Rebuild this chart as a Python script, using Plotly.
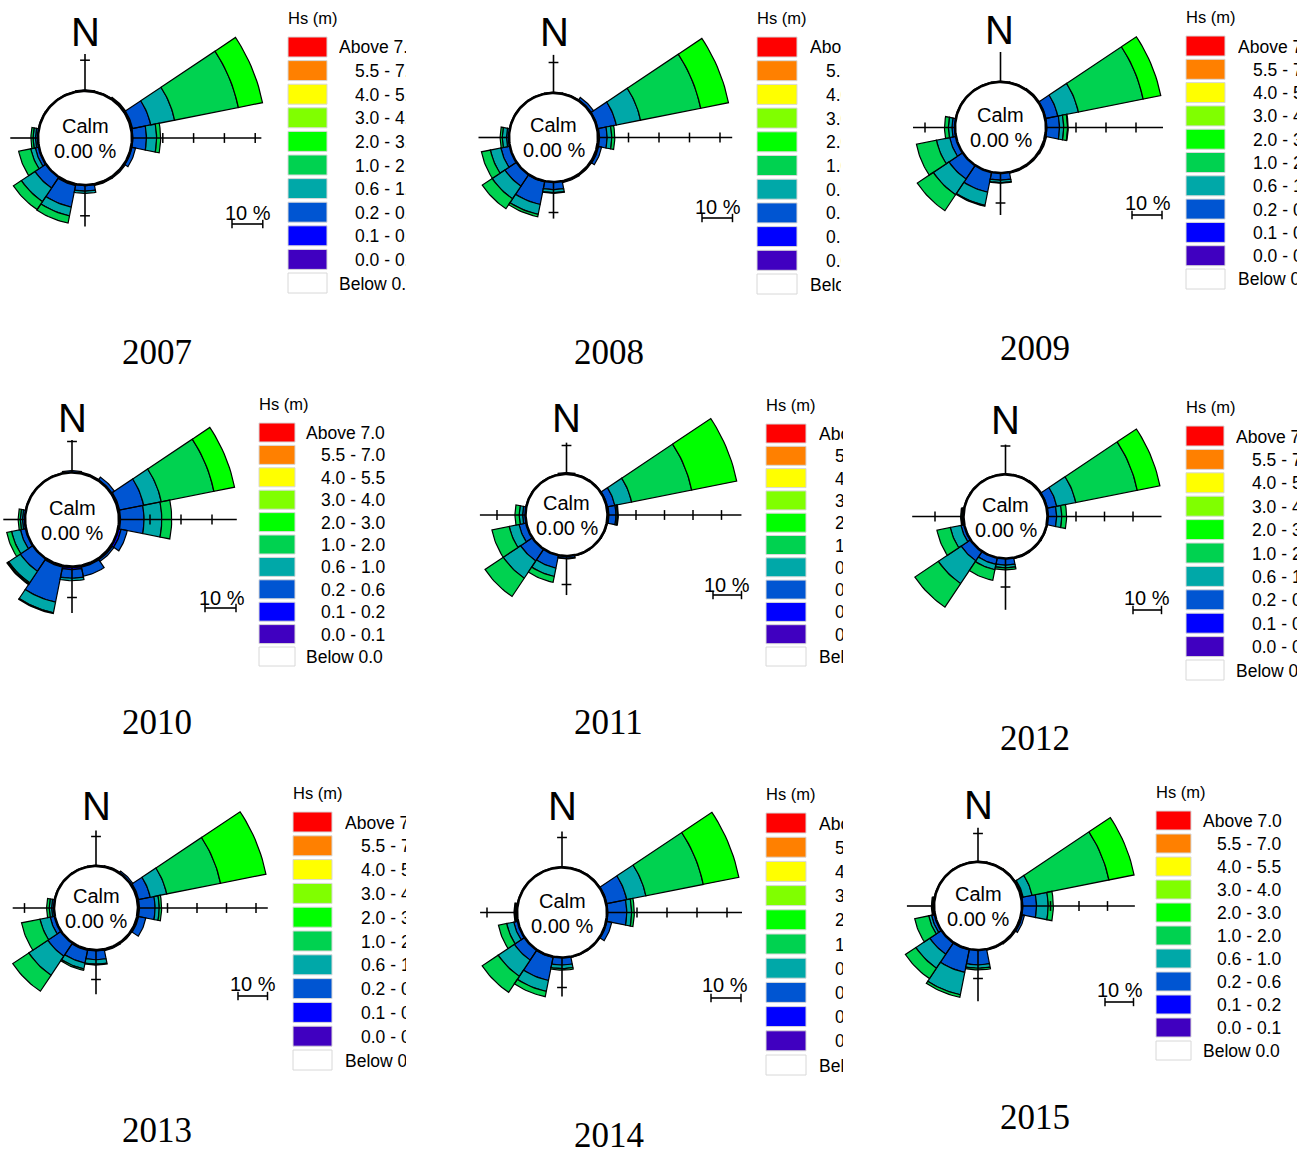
import numpy as np
import plotly.graph_objects as go

FIG_W, FIG_H = 1297, 1151

# ---------------- data ----------------
DIRECTIONS = ["N", "NNE", "NE", "ENE", "E", "ESE", "SE", "SSE",
              "S", "SSW", "SW", "WSW", "W", "WNW", "NW", "NNW"]
BEARINGS = [i * 22.5 for i in range(16)]

HS_BINS = ["Above 7.0", "5.5 - 7.0", "4.0 - 5.5", "3.0 - 4.0", "2.0 - 3.0",
           "1.0 - 2.0", "0.6 - 1.0", "0.2 - 0.6", "0.1 - 0.2", "0.0 - 0.1", "Below 0.0"]
HS_COLORS = ["#ff0000", "#ff8000", "#ffff00", "#80ff00", "#00ff00",
             "#00d250", "#00a8a8", "#0055d2", "#0000ff", "#4000c0", "#ffffff"]
STACK_ORDER = ["0.0 - 0.1", "0.1 - 0.2", "0.2 - 0.6", "0.6 - 1.0", "1.0 - 2.0", "2.0 - 3.0"]

YEARS = [2007, 2008, 2009, 2010, 2011, 2012, 2013, 2014, 2015]
CALM_PCT = [0.00, 0.00, 0.00, 0.00, 0.00, 0.00, 0.00, 0.00, 0.00]

# frequency (%) per Hs class, directions N..NNW
freq_2007 = {
    "0.1 - 0.2": [0, 0, 0.3, 0.5, 0.3, 0.3, 0, 0.2, 0.2, 0.5, 0, 0, 0, 0, 0, 0],
    "0.2 - 0.6": [0.4, 0.3, 0.3, 6.0, 4.4, 1.2, 0.5, 0.3, 1.8, 7.1, 4.3, 1.2, 0.8, 0.2, 0.2, 0.2],
    "0.6 - 1.0": [0, 0, 0, 7.9, 3.3, 0, 0, 0, 0.7, 2.9, 5.3, 1.5, 0.8, 0, 0, 0],
    "1.0 - 2.0": [0, 0, 0, 21.1, 1.3, 0, 0, 0, 0, 2.4, 3.1, 4.0, 0.7, 0, 0, 0],
    "2.0 - 3.0": [0, 0, 0, 8.0, 0, 0, 0, 0, 0, 0, 0, 0, 0, 0, 0, 0],
}
freq_2008 = {
    "0.1 - 0.2": [0, 0, 0.3, 0.3, 0.5, 0.5, 0, 0, 0, 0.3, 0, 0, 0, 0, 0, 0],
    "0.2 - 0.6": [0.3, 0.3, 0.9, 6.1, 2.5, 1.0, 0.4, 0.5, 2.5, 7.5, 4.6, 3.0, 0.8, 0.2, 0.2, 0.2],
    "0.6 - 1.0": [0, 0, 0, 8.1, 1.5, 0, 0, 0, 1.0, 3.3, 5.0, 3.5, 1.4, 0, 0, 0],
    "1.0 - 2.0": [0, 0, 0, 20.1, 1.0, 0, 0, 0, 0.2, 0.8, 3.9, 3.0, 0.7, 0, 0, 0],
    "2.0 - 3.0": [0, 0, 0, 9.3, 0, 0, 0, 0, 0, 0, 0, 0, 0, 0, 0, 0],
}
freq_2009 = {
    "0.1 - 0.2": [0, 0, 0, 0.3, 0.3, 0, 0, 0, 0, 0, 0, 0, 0, 0, 0, 0],
    "0.2 - 0.6": [0.3, 0.3, 0.4, 4.0, 4.2, 0.5, 0.4, 0.4, 2.4, 6.8, 5.5, 2.1, 1.0, 0.2, 0.2, 0.2],
    "0.6 - 1.0": [0, 0, 0, 7.0, 1.4, 0, 0, 0, 0.8, 4.5, 6.3, 4.5, 1.2, 0, 0, 0],
    "1.0 - 2.0": [0, 0, 0, 22.0, 1.3, 0, 0, 0, 0.2, 0.3, 6.4, 6.8, 1.3, 0, 0, 0],
    "2.0 - 3.0": [0, 0, 0, 6.0, 0.2, 0, 0, 0, 0, 0, 0, 0, 0, 0, 0, 0],
}
freq_2010 = {
    "0.0 - 0.1": [0, 0, 0, 0, 0, 0, 0, 0, 0.4, 0, 0, 0, 0, 0, 0, 0],
    "0.1 - 0.2": [0, 0, 0.3, 0.5, 0.5, 1.0, 0.5, 0.5, 0.6, 0.5, 0, 0, 0, 0, 0, 0],
    "0.2 - 0.6": [0.6, 0.4, 1.0, 7.9, 7.6, 2.0, 0.6, 3.0, 2.8, 11.5, 4.9, 1.8, 0.8, 0.2, 0.2, 0.2],
    "0.6 - 1.0": [0, 0, 0, 5.8, 5.7, 0, 0, 0, 0.8, 3.5, 4.5, 2.9, 0.7, 0, 0, 0],
    "1.0 - 2.0": [0, 0, 0, 17.3, 3.2, 0, 0, 0, 0, 0.3, 0.4, 1.6, 0.7, 0, 0, 0],
    "2.0 - 3.0": [0, 0, 0, 6.8, 0, 0, 0, 0, 0, 0, 0.3, 0, 0, 0, 0, 0],
}
freq_2011 = {
    "0.1 - 0.2": [0, 0, 0, 0.3, 0.5, 0, 0, 0, 0, 0, 0, 0, 0, 0, 0, 0],
    "0.2 - 0.6": [0.5, 0.3, 0.3, 2.6, 2.5, 0.3, 0.2, 0.3, 0.8, 4.6, 5.0, 2.6, 1.0, 0.2, 0.2, 0.2],
    "0.6 - 1.0": [0, 0, 0, 6.0, 0.5, 0, 0, 0, 0.2, 3.0, 7.3, 3.5, 1.2, 0, 0, 0],
    "1.0 - 2.0": [0, 0, 0, 21.5, 0.3, 0, 0, 0, 0, 2.1, 7.7, 6.2, 1.5, 0, 0, 0],
    "2.0 - 3.0": [0, 0, 0, 16.1, 0, 0, 0, 0, 0, 0, 0, 0, 0, 0, 0, 0],
}
freq_2012 = {
    "0.1 - 0.2": [0, 0, 0, 0.3, 0.3, 0, 0, 0, 0, 0, 0, 0, 0, 0, 0, 0],
    "0.2 - 0.6": [0.3, 0.3, 0.4, 3.3, 2.9, 0.3, 0.3, 0.4, 2.3, 2.4, 4.0, 1.2, 0.5, 0.2, 0.2, 0.2],
    "0.6 - 1.0": [0, 0, 0, 6.8, 1.8, 0, 0, 0, 1.0, 1.9, 9.6, 3.8, 0.3, 0, 0, 0],
    "1.0 - 2.0": [0, 0, 0, 22.0, 1.7, 0, 0, 0, 0.7, 3.8, 9.9, 4.8, 0.2, 0, 0, 0],
    "2.0 - 3.0": [0, 0, 0, 8.1, 0, 0, 0, 0, 0, 0, 0, 0, 0, 0, 0, 0],
}
freq_2013 = {
    "0.1 - 0.2": [0, 0, 0, 0.5, 0.5, 0.5, 0, 0, 0.3, 0.4, 0, 0, 0, 0, 0, 0],
    "0.2 - 0.6": [0.3, 0.4, 0.8, 4.0, 5.3, 2.5, 0.4, 0.5, 3.0, 4.4, 5.4, 1.6, 0.8, 0.2, 0.2, 0.2],
    "0.6 - 1.0": [0, 0, 0, 5.7, 1.4, 0, 0, 0, 1.5, 2.0, 7.8, 3.5, 0.8, 0, 0, 0],
    "1.0 - 2.0": [0, 0, 0, 18.6, 0.8, 0, 0, 0, 0.3, 0.5, 6.5, 6.4, 0.9, 0, 0, 0],
    "2.0 - 3.0": [0, 0, 0, 15.7, 0, 0, 0, 0, 0, 0, 0, 0, 0, 0, 0, 0],
}
freq_2014 = {
    "0.1 - 0.2": [0, 0, 0, 0.3, 0.3, 0.3, 0, 0, 0, 0.3, 0, 0, 0, 0, 0, 0],
    "0.2 - 0.6": [0.3, 0.3, 0.3, 6.7, 6.3, 1.6, 0.3, 0.3, 2.5, 7.8, 4.1, 1.4, 0.4, 0.2, 0.2, 0.2],
    "0.6 - 1.0": [0, 0, 0, 6.5, 1.6, 0, 0, 0, 1.2, 3.7, 6.5, 2.4, 0.3, 0, 0, 0],
    "1.0 - 2.0": [0, 0, 0, 19.5, 0.9, 0, 0, 0, 0.5, 1.8, 6.4, 2.8, 0.3, 0, 0, 0],
    "2.0 - 3.0": [0, 0, 0, 12.1, 0, 0, 0, 0, 0, 0, 0, 0, 0, 0, 0, 0],
}
freq_2015 = {
    "0.1 - 0.2": [0, 0, 0, 0.3, 0.3, 0.5, 0, 0, 0, 0.3, 0, 0, 0, 0, 0, 0],
    "0.2 - 0.6": [0.3, 0.3, 0.3, 0.4, 4.8, 0.7, 0.5, 0.4, 5.2, 8.0, 4.9, 1.2, 0.4, 0.2, 0.2, 0.2],
    "0.6 - 1.0": [0, 0, 0, 3.2, 4.1, 0, 0, 0, 1.2, 8.0, 5.9, 1.0, 0.3, 0, 0, 0],
    "1.0 - 2.0": [0, 0, 0, 27.5, 1.8, 0, 0, 0, 0.6, 0.9, 4.4, 5.0, 0.2, 0, 0, 0],
    "2.0 - 3.0": [0, 0, 0, 9.0, 0, 0, 0, 0, 0, 0, 0, 0, 0, 0, 0, 0],
}
FREQ = {2007: freq_2007, 2008: freq_2008, 2009: freq_2009, 2010: freq_2010, 2011: freq_2011,
        2012: freq_2012, 2013: freq_2013, 2014: freq_2014, 2015: freq_2015}

# extent of the N, E, S, W axis lines (%)
AXIS_EXTENT = {
    2007: [12, 42, 13.5, 9], 2008: [12.5, 44, 12, 10], 2009: [10, 39, 14, 14],
    2010: [10.5, 38, 15, 7], 2011: [11, 47, 13.7, 16], 2012: [10.5, 40, 18, 18],
    2013: [12, 44, 15, 14], 2014: [12, 45, 13, 12.3], 2015: [12, 39.6, 18, 9.5],
}
SCALE_PCT = 10

# ---------------- layout (pixel positions / styles) ----------------
COLS = [(0, 432), (432, 865), (865, 1297)]
ROWS = [(0, 383), (383, 767), (767, 1151)]
GEOM = {  # centre x, centre y, calm radius px, px per %
    2007: (85, 138, 47, 3.08), 2008: (553.5, 137.5, 44.5, 3.05), 2009: (1000.5, 127.5, 45.5, 3.0),
    2010: (72, 519.5, 47, 3.1), 2011: (566.5, 515, 41, 2.85), 2012: (1005.5, 516.5, 42, 2.85),
    2013: (96, 908, 42, 2.95), 2014: (562, 912.5, 45, 3.0), 2015: (978, 906, 44, 2.85),
}
LEG = {  # swatch x0, swatch x1, first top, step, swatch h, x of Above/Below, x of numbers, clip x
    2007: (288, 327, 37, 23.6, 20, 338, 354, 405),
    2008: (757, 797, 37, 23.7, 20, 809, 825, 840),
    2009: (1186, 1225, 36, 23.3, 20, 1237, 1252, 1297),
    2010: (259, 295, 423, 22.4, 19, 305, 320, None),
    2011: (766, 806, 424, 22.3, 19, 818, 834, 842),
    2012: (1186, 1224, 426, 23.4, 20, 1235, 1251, 1297),
    2013: (293, 332, 812, 23.8, 20, 344, 360, 405),
    2014: (766, 806, 813, 24.2, 20, 818, 834, 842),
    2015: (1156, 1191, 811, 23.0, 19, 1202, 1216, None),
}
N_POS = {2007: (85, 32), 2008: (554, 32), 2009: (1000, 30), 2010: (72, 418), 2011: (566, 418),
         2012: (1005, 420), 2013: (96, 806), 2014: (562, 806), 2015: (978, 805)}
YEAR_POS = {2007: (157, 353), 2008: (609, 353), 2009: (1035, 348), 2010: (157, 722), 2011: (608, 722),
            2012: (1035, 738), 2013: (157, 1130), 2014: (609, 1135), 2015: (1035, 1117)}
SCALE_POS = {  # bar left x, bar y, text x, text y
    2007: (232, 224, 248, 213), 2008: (702, 218, 718, 207), 2009: (1132, 215, 1148, 203),
    2010: (205, 608, 222, 598), 2011: (713, 595, 727, 585), 2012: (1133, 610, 1147, 598),
    2013: (238, 996, 253, 984), 2014: (711, 998, 725, 985), 2015: (1105, 1002, 1120, 990),
}

SANS = "Liberation Sans, Arial, sans-serif"
SERIF = "Liberation Serif, Times New Roman, serif"


def P(x, y):
    return x / FIG_W, 1 - y / FIG_H


def text_ann(x, y, text, size, family=SANS, xanchor="center", **kw):
    px_, py_ = P(x, y)
    d = dict(x=px_, y=py_, xref="paper", yref="paper", text=text, showarrow=False,
             font=dict(family=family, size=size, color="black"),
             xanchor=xanchor, yanchor="middle", borderpad=0)
    d.update(kw)
    return d


def wedge(bearing, r_in, r_out, n=14):
    t = np.radians(np.linspace(bearing - 11.25, bearing + 11.25, n))
    rr = np.r_[np.full(n, r_in), np.full(n, r_out), r_in]
    tt = np.r_[t, t[::-1], t[0]]
    return list(rr * np.sin(tt)), list(rr * np.cos(tt))


fig = go.Figure()
annotations = []
shapes = []
layout_axes = {}

for idx, yr in enumerate(YEARS):
    n = idx + 1
    xa, ya = ("x", "y") if n == 1 else (f"x{n}", f"y{n}")
    cx, cy, r0, k = GEOM[yr]
    col, row = COLS[idx % 3], ROWS[idx // 3]
    layout_axes["xaxis" if n == 1 else f"xaxis{n}"] = dict(
        domain=[col[0] / FIG_W, col[1] / FIG_W], range=[(col[0] - cx) / k, (col[1] - cx) / k],
        visible=False, fixedrange=True)
    layout_axes["yaxis" if n == 1 else f"yaxis{n}"] = dict(
        domain=[1 - row[1] / FIG_H, 1 - row[0] / FIG_H], range=[(cy - row[1]) / k, (cy - row[0]) / k],
        visible=False, fixedrange=True)
    c0 = r0 / k  # calm circle radius in % units

    # stacked rose wedges
    cum = np.zeros(16)
    for cls in STACK_ORDER:
        vals = FREQ[yr].get(cls)
        if vals is None:
            continue
        xs, ys = [], []
        for d, v in enumerate(vals):
            if v <= 0:
                continue
            wx, wy = wedge(BEARINGS[d], c0 + cum[d], c0 + cum[d] + v)
            xs += wx + [None]
            ys += wy + [None]
            cum[d] += v
        fig.add_trace(go.Scatter(
            x=xs, y=ys, mode="lines", fill="toself",
            fillcolor=HS_COLORS[HS_BINS.index(cls)],
            line=dict(color="black", width=1.2), xaxis=xa, yaxis=ya,
            hoverinfo="skip", showlegend=False))

    # calm circle
    t = np.radians(np.linspace(0, 360, 181))
    fig.add_trace(go.Scatter(
        x=c0 * np.sin(t), y=c0 * np.cos(t), mode="lines", fill="toself", fillcolor="white",
        line=dict(color="black", width=2.6), xaxis=xa, yaxis=ya, hoverinfo="skip", showlegend=False))

    # compass axis lines + ticks
    ext = AXIS_EXTENT[yr]
    lx, ly = [], []
    tvx, tvy, thx, thy = [], [], [], []
    for b, L in zip([0, 90, 180, 270], ext):
        s, c = np.sin(np.radians(b)), np.cos(np.radians(b))
        lx += [c0 * s, (c0 + L) * s, None]
        ly += [c0 * c, (c0 + L) * c, None]
        for tk in range(10, int(L) + 1, 10):
            if tk >= L:
                break
            if b in (0, 180):
                thx.append((c0 + tk) * s); thy.append((c0 + tk) * c)
            else:
                tvx.append((c0 + tk) * s); tvy.append((c0 + tk) * c)
    fig.add_trace(go.Scatter(x=lx, y=ly, mode="lines", line=dict(color="black", width=1.6),
                             xaxis=xa, yaxis=ya, hoverinfo="skip", showlegend=False))
    fig.add_trace(go.Scatter(x=thx, y=thy, mode="markers",
                             marker=dict(symbol="line-ew", size=7, line=dict(color="black", width=1.5)),
                             xaxis=xa, yaxis=ya, hoverinfo="skip", showlegend=False))
    fig.add_trace(go.Scatter(x=tvx, y=tvy, mode="markers",
                             marker=dict(symbol="line-ns", size=7, line=dict(color="black", width=1.5)),
                             xaxis=xa, yaxis=ya, hoverinfo="skip", showlegend=False))

    # 10 % scale bar
    bx, by, tx, ty = SCALE_POS[yr]
    sx0, sy = (bx - cx) / k, (cy - by) / k
    fig.add_trace(go.Scatter(x=[sx0, sx0 + SCALE_PCT], y=[sy, sy], mode="lines+markers",
                             line=dict(color="black", width=1.6),
                             marker=dict(symbol="line-ns", size=6, line=dict(color="black", width=1.5)),
                             xaxis=xa, yaxis=ya, hoverinfo="skip", showlegend=False))
    annotations.append(text_ann(tx, ty, f"{SCALE_PCT} %", 20))

    # N / Calm text
    annotations.append(text_ann(*N_POS[yr], "N", 40))
    annotations.append(text_ann(cx, cy - 12, "Calm", 20))
    annotations.append(text_ann(cx, cy + 13, f"{CALM_PCT[idx]:.2f} %", 20))

    # year caption
    annotations.append(text_ann(*YEAR_POS[yr], str(yr), 35, family=SERIF))

    # legend
    sw0, sw1, top, step, sh, x_ab, x_num, clip = LEG[yr]
    annotations.append(text_ann(sw0 - 1, top - 19, "Hs (m)", 16.5, xanchor="left"))
    for i, (lab, colr) in enumerate(zip(HS_BINS, HS_COLORS)):
        y0 = top + i * step
        shapes.append(dict(type="rect", xref="paper", yref="paper",
                           x0=sw0 / FIG_W, x1=sw1 / FIG_W,
                           y0=1 - (y0 + sh) / FIG_H, y1=1 - y0 / FIG_H,
                           fillcolor=colr, line=dict(color="#d8d8d8", width=1)))
        xs_ = x_ab if lab[0].isalpha() else x_num
        extra = dict(align="left")
        if clip is not None:
            extra["width"] = max(clip - xs_, 1)
        annotations.append(text_ann(xs_, y0 + sh / 2 + 0.5, lab, 17.5, xanchor="left", **extra))

fig.update_layout(
    width=FIG_W, height=FIG_H, autosize=False,
    margin=dict(l=0, r=0, t=0, b=0),
    paper_bgcolor="white", plot_bgcolor="rgba(0,0,0,0)",
    showlegend=False, annotations=annotations, shapes=shapes,
    **layout_axes,
)

fig.write_html("out.html", config={"displayModeBar": False, "staticPlot": True},
               post_script="document.body.style.margin='0px';")
